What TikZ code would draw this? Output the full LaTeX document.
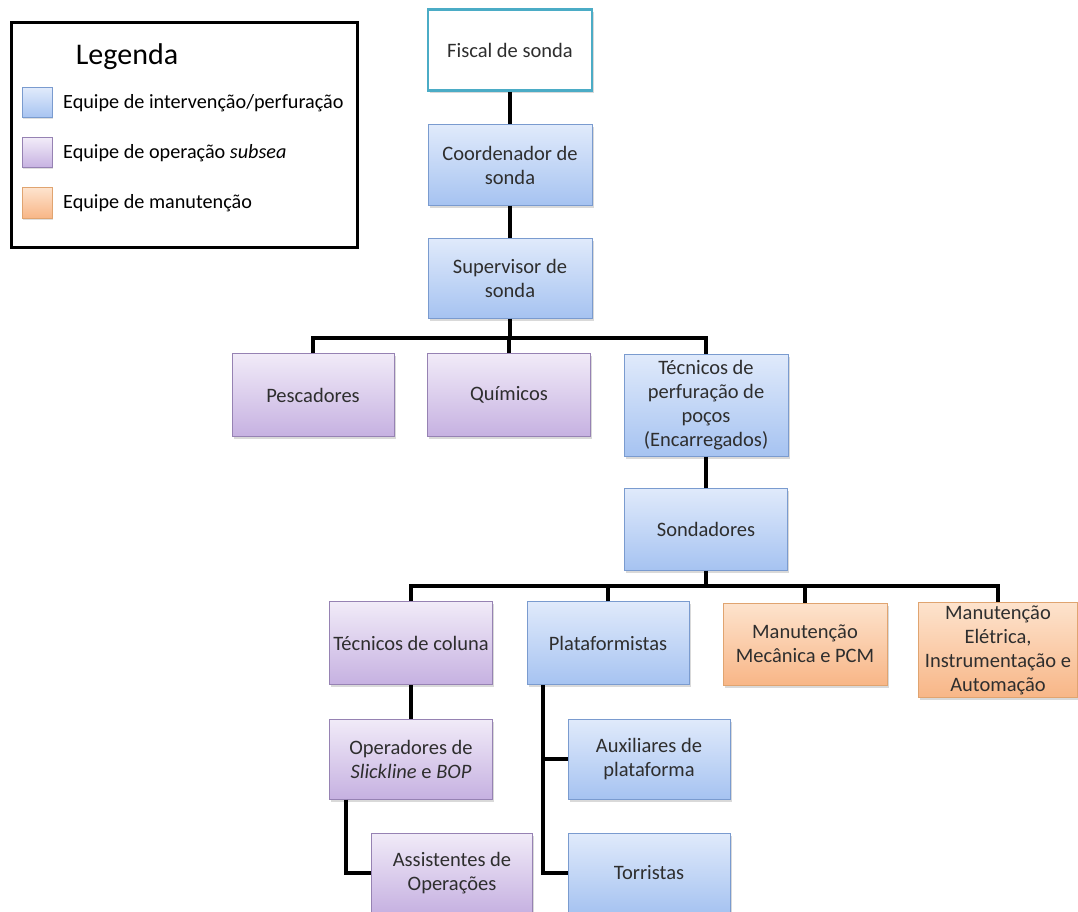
\documentclass[tikz,border=0pt]{standalone}
\usepackage{fontspec}
\setmainfont{Carlito}
\usetikzlibrary{shadows}
\definecolor{txt}{HTML}{2E2E2E}
\definecolor{bTop}{HTML}{E0EAFB}
\definecolor{bBot}{HTML}{A6C3F1}
\definecolor{bLine}{HTML}{7A9BCF}
\definecolor{pTop}{HTML}{F1EBF8}
\definecolor{pBot}{HTML}{C6B1E1}
\definecolor{pLine}{HTML}{9682B3}
\definecolor{oTop}{HTML}{FDE3CD}
\definecolor{oBot}{HTML}{F8B687}
\definecolor{oLine}{HTML}{E0A470}
\definecolor{teal}{HTML}{4BACC6}
\tikzset{
  box/.style={draw, line width=1pt, minimum width=#1, align=center, text=txt,
    font=\fontsize{20.5}{24}\selectfont, inner sep=2pt,
    drop shadow={shadow xshift=1.5pt, shadow yshift=-2.5pt, opacity=0.3}},
  bluebox/.style={box=#1, draw=bLine, top color=bTop, bottom color=bBot},
  purplebox/.style={box=#1, draw=pLine, top color=pTop, bottom color=pBot},
  orangebox/.style={box=#1, draw=oLine, top color=oTop, bottom color=oBot},
  conn/.style={line width=3.4pt, black},
  swatch/.style={draw, line width=1pt, minimum width=30pt, minimum height=30pt,
    drop shadow={shadow xshift=1pt, shadow yshift=-1.5pt, opacity=0.25}},
  legtext/.style={anchor=west, inner sep=0pt, text=black, font=\fontsize{20.2}{24}\selectfont}
}
\begin{document}
\begin{tikzpicture}[x=1pt,y=-1pt]
\useasboundingbox (0,0) rectangle (1078,912);
\begin{scope}
\clip (0,0) rectangle (1078,912);
% legend
\node[draw, line width=3pt, minimum width=346pt, minimum height=224pt, inner sep=0pt] (legend) at (184,135) {};
\node[anchor=center, font=\fontsize{30}{34}\selectfont] (legtitle) at (127,57) {Legenda};
\node[swatch, draw=bLine, top color=bTop, bottom color=bBot] (sw1) at (37,103) {};
\node[swatch, draw=pLine, top color=pTop, bottom color=pBot] (sw2) at (37,153) {};
\node[swatch, draw=oLine, top color=oTop, bottom color=oBot] (sw3) at (37,203) {};
\node[legtext] (lt1) at (63,103) {Equipe de intervenção/perfuração};
\node[legtext] (lt2) at (63,153) {Equipe de operação \textit{subsea}};
\node[legtext] (lt3) at (63,203) {Equipe de manutenção};

% tree nodes
\node[box=164pt, minimum height=81pt, draw=teal, line width=2.8pt, fill=white, drop shadow={opacity=0}] (fiscal) at (510,50) {Fiscal de sonda};
\node[bluebox=164pt, minimum height=80pt] (coord) at (510,165) {Coordenador de\\sonda};
\node[bluebox=164pt, minimum height=80pt] (sup) at (510,278) {Supervisor de\\sonda};
\node[purplebox=162pt, minimum height=83pt] (pesc) at (313,395) {Pescadores};
\node[purplebox=163pt, minimum height=83pt] (quim) at (509,395) {Químicos};
\node[bluebox=164pt, minimum height=102pt] (tecperf) at (706,405) {Técnicos de\\perfuração de\\poços\\(Encarregados)};
\node[bluebox=163pt, minimum height=82pt] (sond) at (706,529) {Sondadores};
\node[purplebox=163pt, minimum height=83pt] (tcol) at (411,643) {Técnicos de coluna};
\node[bluebox=162pt, minimum height=83pt] (plat) at (608,643) {Plataformistas};
\node[orangebox=164pt, minimum height=82pt] (mmec) at (805,644) {Manutenção\\Mecânica e PCM};
\node[orangebox=159pt, minimum height=95pt] (mele) at (998,650) {Manutenção\\Elétrica,\\Instrumentação e\\Automação};
\node[purplebox=163pt, minimum height=80pt] (oper) at (411,759) {Operadores de\\\textit{Slickline} e \textit{BOP}};
\node[purplebox=161pt, minimum height=80pt] (assist) at (452,873) {Assistentes de\\Operações};
\node[bluebox=162pt, minimum height=80pt] (aux) at (649,759) {Auxiliares de\\plataforma};
\node[bluebox=162pt, minimum height=80pt] (torr) at (649,873) {Torristas};

% connectors
\coordinate (b1) at (510,338);
\coordinate (b2) at (706,586);
\draw[conn] (fiscal.south) -- (coord.north);
\draw[conn] (coord.south) -- (sup.north);
\draw[conn] (sup.south) -- (b1);
\draw[conn] (pesc.north) -- (pesc.north |- b1) -- (tecperf.north |- b1) -- (tecperf.north);
\draw[conn] (quim.north) -- (quim.north |- b1);
\draw[conn] (tecperf.south) -- (sond.north);
\draw[conn] (sond.south) -- (b2);
\draw[conn] (tcol.north) -- (tcol.north |- b2) -- (mele.north |- b2) -- (mele.north);
\draw[conn] (plat.north) -- (plat.north |- b2);
\draw[conn] (mmec.north) -- (mmec.north |- b2);
\draw[conn] (tcol.south) -- (oper.north);
\draw[conn] ([xshift=-65pt]oper.south) |- (assist.west);
\draw[conn] ([xshift=-65pt]plat.south) |- (torr.west);
\draw[conn] ([xshift=-65pt]plat.south) |- (aux.west);
\end{scope}
\end{tikzpicture}
\end{document}
